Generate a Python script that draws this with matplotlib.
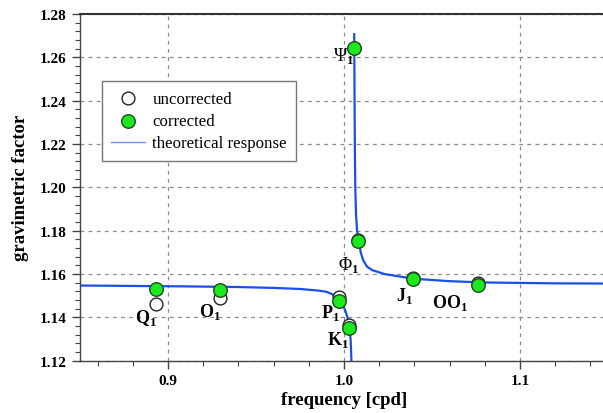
import matplotlib
matplotlib.use("Agg")
import matplotlib.pyplot as plt
from matplotlib.ticker import MultipleLocator

plt.rcParams["font.family"] = ["Liberation Serif", "DejaVu Serif"]
plt.rcParams["mathtext.fontset"] = "custom"
plt.rcParams["mathtext.rm"] = "Liberation Serif"
plt.rcParams["mathtext.bf"] = "Liberation Serif:bold"

# tidal waves: frequency [cpd] and gravimetric factors
waves = ["Q1", "O1", "P1", "K1", "Psi1", "Phi1", "J1", "OO1"]
freq = [0.8932, 0.9295, 0.9973, 1.0027, 1.0055, 1.0082, 1.0390, 1.0759]
uncorrected = [1.1463, 1.1488, 1.1493, 1.1366, 1.2645, 1.1757, 1.1580, 1.1559]
corrected = [1.1531, 1.1527, 1.1474, 1.1351, 1.2643, 1.1754, 1.1579, 1.1550]

# theoretical response, two branches either side of the resonance
left_f = [0.850, 0.880, 0.910, 0.940, 0.960, 0.975, 0.985, 0.990, 0.993,
          0.995, 0.9965, 0.998, 0.999, 1.000, 1.001, 1.002, 1.0028, 1.0034,
          1.0038, 1.0040, 1.0042]
left_g = [1.1547, 1.1545, 1.1543, 1.1540, 1.1536, 1.1531, 1.1524, 1.1518,
          1.1508, 1.1497, 1.1487, 1.1473, 1.1460, 1.1445, 1.1425, 1.1398,
          1.1368, 1.1335, 1.1290, 1.1250, 1.1200]
right_f = [1.0058, 1.0060, 1.0062, 1.0064, 1.0068, 1.0074, 1.0083, 1.0095,
           1.0108, 1.0130, 1.0160, 1.0230, 1.0320, 1.0400, 1.0600, 1.0800,
           1.1000, 1.1200, 1.1500]
right_g = [1.2707, 1.2400, 1.2150, 1.2000, 1.1880, 1.1800, 1.1756, 1.1700,
           1.1665, 1.1635, 1.1618, 1.1600, 1.1588, 1.1578, 1.1567, 1.1561,
           1.1559, 1.1557, 1.1556]

# label text and where it sits
labels = [r"Q$_\mathbf{1}$", r"O$_\mathbf{1}$", r"P$_\mathbf{1}$", r"K$_\mathbf{1}$",
          r"Ψ$_\mathbf{1}$", r"Φ$_\mathbf{1}$", r"J$_\mathbf{1}$", r"OO$_\mathbf{1}$"]
label_f = [0.8876, 0.9240, 0.9922, 0.9965, 0.9999, 1.0023, 1.0343, 1.0604]
label_g = [1.1404, 1.1429, 1.1427, 1.1300, 1.2611, 1.1644, 1.1501, 1.1469]
label_bold = [True, True, True, True, False, False, True, True]

fig = plt.figure(figsize=(6.03, 4.14), dpi=100)
ax = fig.add_axes([0.1327, 0.1263, 0.8756, 0.8375])

line_color = "#1a4fe6"
ax.plot(left_f, left_g, color=line_color, lw=1.6, zorder=2)
ax.plot(right_f, right_g, color=line_color, lw=1.6, zorder=2)
ax.plot([], [], color="#6f8ff0", lw=1.0, label="theoretical response")

ax.scatter(freq, uncorrected, s=85, facecolor="white", edgecolor="#222222",
           linewidth=1.0, zorder=3, label="uncorrected")
ax.scatter(freq, corrected, s=95, facecolor="#1de81d", edgecolor="#1f4a1f",
           linewidth=1.0, zorder=4, label="corrected")

for txt, x, y, b in zip(labels, label_f, label_g, label_bold):
    ax.text(x, y, txt, ha="center", va="center", fontsize=13,
            fontweight="bold" if b else "normal", zorder=5)

ax.set_xlim(0.85, 1.15)
ax.set_ylim(1.12, 1.28)
ax.xaxis.set_major_locator(MultipleLocator(0.1))
ax.xaxis.set_minor_locator(MultipleLocator(0.02))
ax.yaxis.set_major_locator(MultipleLocator(0.02))
ax.yaxis.set_minor_locator(MultipleLocator(0.004))
ax.xaxis.set_major_formatter(plt.FuncFormatter(lambda v, p: f"{v:.1f}"))
ax.yaxis.set_major_formatter(plt.FuncFormatter(lambda v, p: f"{v:.2f}"))

ax.grid(True, which="major", linestyle=(0, (3, 3.5)), color="#8a8a8a", lw=0.9)
ax.set_axisbelow(True)

ax.tick_params(which="major", direction="out", length=6, width=1.0,
               color="#444444", labelsize=11)
ax.tick_params(which="minor", direction="out", length=3.5, width=0.8,
               color="#444444")
for lab in ax.get_xticklabels() + ax.get_yticklabels():
    lab.set_fontweight("bold")

ax.spines["right"].set_visible(False)
ax.spines["top"].set_linewidth(1.5)
ax.spines["top"].set_color("#333333")
for s in ("left", "bottom"):
    ax.spines[s].set_color("#444444")
    ax.spines[s].set_linewidth(1.0)

ax.set_xlabel("frequency [cpd]", fontsize=13.5, fontweight="bold", labelpad=3)
ax.set_ylabel("gravimetric factor", fontsize=13.5, fontweight="bold", labelpad=8)

handles, names = ax.get_legend_handles_labels()
order = [names.index("uncorrected"), names.index("corrected"),
         names.index("theoretical response")]
leg = ax.legend([handles[i] for i in order], [names[i] for i in order],
                loc="upper left", bbox_to_anchor=(0.041, 0.806),
                borderaxespad=0, fontsize=12.2, fancybox=False,
                edgecolor="#777777", framealpha=1, handlelength=2.0,
                handletextpad=0.45, borderpad=0.55, labelspacing=0.38)
leg.get_frame().set_linewidth(1.0)

fig.savefig("out.png", dpi=100)
